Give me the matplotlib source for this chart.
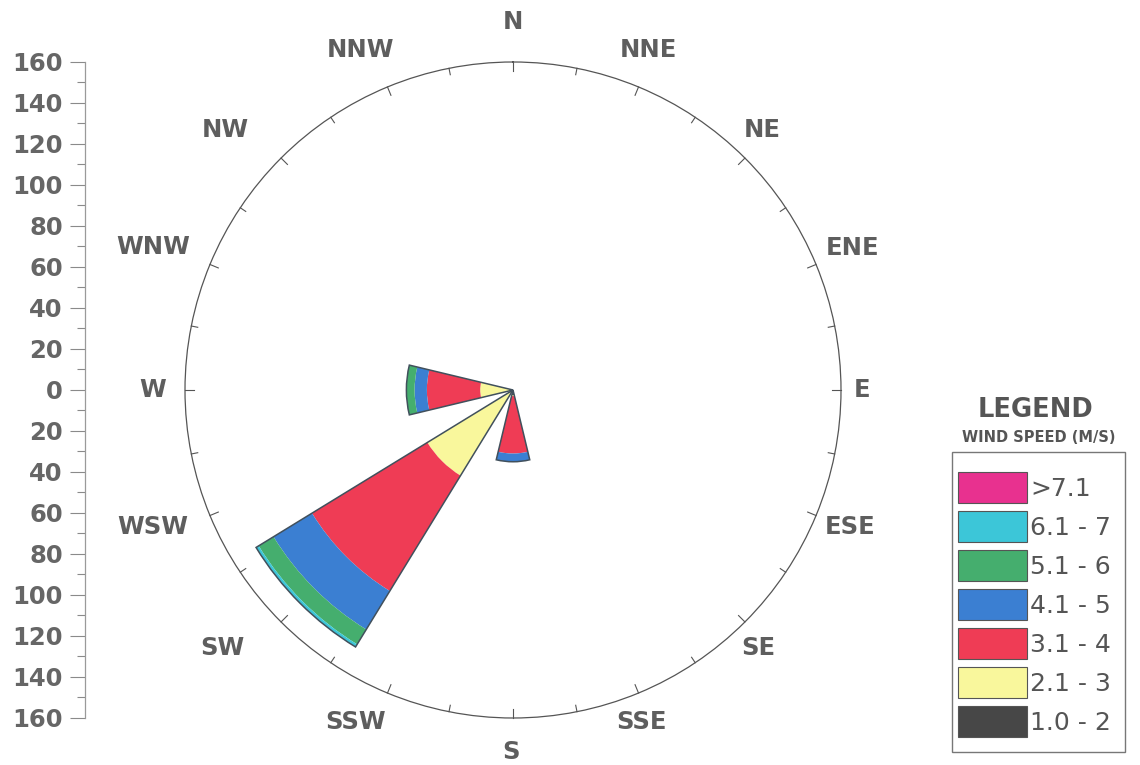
import numpy as np
import matplotlib
matplotlib.use("Agg")
import matplotlib.pyplot as plt
from matplotlib.patches import Patch, Rectangle

# ---------------- data ----------------
# directions that carry wind (compass degrees, clockwise from N)
directions = ["W", "SW", "S"]
dir_deg = [270, 225, 180]

# wind speed classes, slowest first
speed_classes = ["1.0 - 2", "2.1 - 3", "3.1 - 4", "4.1 - 5", "5.1 - 6", "6.1 - 7", ">7.1"]
speed_colors = ["#474747", "#f9f79c", "#ef3c55", "#3b7fd2", "#45ae6e", "#3cc6d8", "#e8318f"]

# stacked band length of each class, one value per direction (W, SW, S)
spd_1_2 = [1.5, 1.5, 2.5]
spd_2_3 = [14.5, 47.5, 0.5]
spd_3_4 = [26.0, 66.0, 28.0]
spd_4_5 = [6.0, 22.0, 4.0]
spd_5_6 = [4.0, 8.5, 0.0]
spd_6_7 = [0.0, 1.5, 0.0]
spd_7_up = [0.0, 0.0, 0.0]
bands = [spd_1_2, spd_2_3, spd_3_4, spd_4_5, spd_5_6, spd_6_7, spd_7_up]

# compass labels: name, bearing of the label, distance out
compass = ["N", "NNE", "NE", "ENE", "E", "ESE", "SE", "SSE",
           "S", "SSW", "SW", "WSW", "W", "WNW", "NW", "NNW"]
compass_ang = [0, 21.7, 43.8, 67.3, 90, 112.1, 136.5, 158.8,
               180.3, 205.4, 228.4, 249.2, 270, 291.7, 312.1, 335.8]
compass_r = [179.5, 178.4, 175.6, 179.3, 170.2, 177.5, 173.6, 173.8,
             176.6, 179.4, 189.7, 187.9, 175.6, 189.0, 189.3, 181.9]

axis_ticks = list(range(-160, 161, 20))
r_max = 160
sector_width = np.deg2rad(27)

grey_txt = "#5e5e5e"
line_col = "#555555"

# ---------------- figure ----------------
fig = plt.figure(figsize=(11.4, 7.65), dpi=100)
fig.patch.set_facecolor("white")

rect = [0.16228, 0.06144, 0.57544, 0.85752]
ax = fig.add_axes(rect, projection="polar")
ax.set_theta_zero_location("N")
ax.set_theta_direction(-1)
ax.set_ylim(0, r_max)
ax.set_yticks([])
ax.set_xticks([])
ax.grid(False)
ax.spines["polar"].set_color(line_col)
ax.spines["polar"].set_linewidth(0.9)

# inward ticks round the rim, every 11.25 degrees
for i, a in enumerate(np.arange(0, 360, 11.25)):
    tl = 4.4 if i % 2 == 0 else 3.2
    ax.plot([np.deg2rad(a)] * 2, [r_max - tl, r_max], color=line_col,
            lw=0.8, clip_on=False)

theta = np.deg2rad(dir_deg)
bottom = np.zeros(len(directions))
for vals, col in zip(bands, speed_colors):
    vals = np.array(vals)
    ax.bar(theta, vals, width=sector_width, bottom=bottom, color=col,
           edgecolor="none", linewidth=0, align="center")
    bottom += vals

# outline round each direction
ax.bar(theta, bottom, width=sector_width, fill=False, edgecolor="#41505c", linewidth=1.1)

for name, ang, rr in zip(compass, compass_ang, compass_r):
    ax.text(np.deg2rad(ang), rr, name, ha="center", va="center", fontsize=17.5,
            fontweight="bold", color=grey_txt, clip_on=False)

# ---------------- left scale ----------------
sc = fig.add_axes([85 / 1140, rect[1], 0.001, rect[3]])
sc.set_ylim(-r_max, r_max)
sc.set_xticks([])
for s in ["top", "right", "bottom"]:
    sc.spines[s].set_visible(False)
sc.spines["left"].set_color("#9a9a9a")
sc.spines["left"].set_linewidth(0.9)
sc.set_yticks(axis_ticks)
sc.set_yticklabels([str(abs(v)) for v in axis_ticks])
sc.set_yticks(range(-150, 160, 20), minor=True)
sc.tick_params(axis="y", which="major", length=11, width=0.8, colors="#8a8a8a",
               labelcolor="#666666", labelsize=17.5, pad=5)
sc.tick_params(axis="y", which="minor", length=6, width=0.8, colors="#8a8a8a")
for lab in sc.get_yticklabels():
    lab.set_fontweight("bold")
sc.patch.set_visible(False)

# ---------------- legend ----------------
fig.text(1036 / 1140, 1 - 410 / 765, "LEGEND", ha="center", va="center",
         fontsize=18.5, fontweight="bold", color="#555555")
fig.text(1039 / 1140, 1 - 437 / 765, "WIND SPEED (M/S)", ha="center", va="center",
         fontsize=10.5, fontweight="bold", color="#555555")

fig.patches.append(Rectangle((952 / 1140, 1 - 752 / 765), 173 / 1140, 300 / 765,
                             transform=fig.transFigure, fill=False,
                             edgecolor="#777777", linewidth=1.0))

handles = [Patch(facecolor=c, edgecolor=line_col, linewidth=0.8)
           for c in speed_colors[::-1]]
leg = fig.legend(handles, speed_classes[::-1], loc="upper left",
                 bbox_to_anchor=(958 / 1140, 1 - 472 / 765), borderaxespad=0,
                 frameon=False, fontsize=18,
                 handlelength=2.75, handleheight=1.56, labelspacing=0.3,
                 handletextpad=0.15, borderpad=0)
for t in leg.get_texts():
    t.set_color("#555555")

fig.savefig("out.png", dpi=100, facecolor="white")
